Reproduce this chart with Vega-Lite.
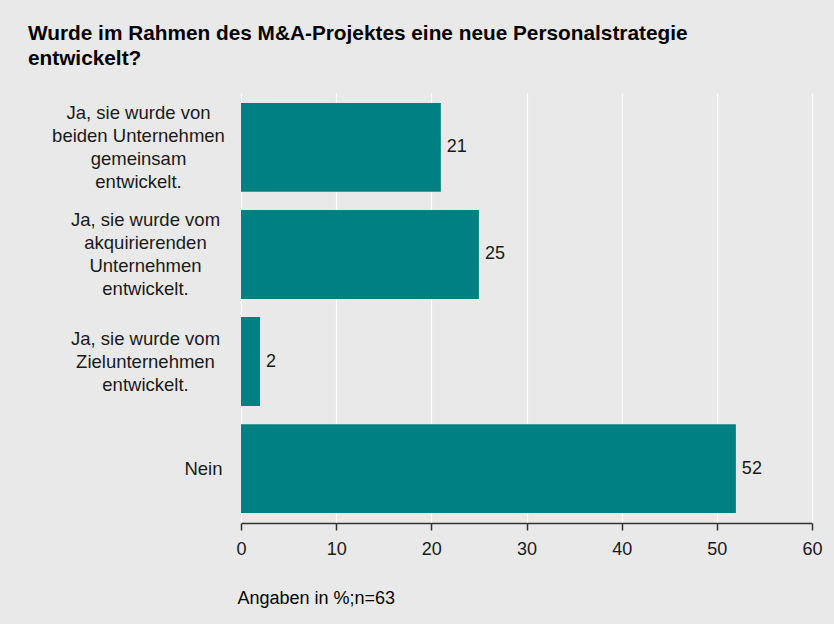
{
  "$schema": "https://vega.github.io/schema/vega-lite/v6.json",
  "autosize": {"type": "none"},
  "padding": {"left": 241, "top": 93, "right": 22, "bottom": 101},
  "width": 571,
  "height": 430,
  "background": "#e9e9e9",
  "title": {
    "text": ["Wurde im Rahmen des M&A-Projektes eine neue Personalstrategie", "entwickelt?"],
    "anchor": "start",
    "frame": "group",
    "dx": -213,
    "dy": -19,
    "font": "Liberation Sans",
    "fontSize": 20.8,
    "fontWeight": "bold",
    "lineHeight": 25,
    "color": "#000000"
  },
  "config": {
    "view": {"stroke": null},
    "font": "Liberation Sans"
  },
  "data": {
    "values": [
      {"antwort": "Ja, sie wurde von|beiden Unternehmen|gemeinsam|entwickelt.", "wert": 21},
      {"antwort": "Ja, sie wurde vom|akquirierenden|Unternehmen|entwickelt.", "wert": 25},
      {"antwort": "Ja, sie wurde vom|Zielunternehmen|entwickelt.", "wert": 2},
      {"antwort": "Nein", "wert": 52}
    ]
  },
  "encoding": {
    "y": {
      "field": "antwort",
      "type": "nominal",
      "sort": null,
      "scale": {"paddingInner": 0.17, "paddingOuter": 0.093},
      "axis": {
        "title": null,
        "domain": false,
        "ticks": false,
        "grid": false,
        "labelPadding": {"expr": "datum.value == 'Nein' ? 38 : (indexof(datum.value, 'beiden') >= 0 ? 103 : 96)"},
        "labelFontSize": 18.5,
        "labelColor": "#1a1a1a",
        "labelLineHeight": 23,
        "labelAlign": "center",
        "labelBaseline": "middle",
        "labelLimit": 300,
        "labelOffset": {"expr": "-(length(split(datum.label, '|')) - 1) * 11.5"},
        "labelExpr": "split(datum.label, '|')"
      }
    },
    "x": {
      "field": "wert",
      "type": "quantitative",
      "scale": {"domain": [0, 60], "nice": false},
      "axis": {
        "values": [0, 10, 20, 30, 40, 50, 60],
        "title": "Angaben in %;n=63",
        "titleFontSize": 18,
        "titleFontWeight": "normal",
        "titleColor": "#000000",
        "titleAnchor": "start",
        "titleAlign": "left",
        "titleX": -4,
        "titleY": 80,
        "titleBaseline": "alphabetic",
        "grid": true,
        "gridColor": "#ffffff",
        "gridWidth": 1.2,
        "domainColor": "#333333",
        "domainWidth": 1.5,
        "tickColor": "#333333",
        "tickSize": 7,
        "tickWidth": 1.5,
        "labelFontSize": 18,
        "labelColor": "#1a1a1a",
        "labelPadding": 10,
        "labelFlush": false
      }
    }
  },
  "layer": [
    {"mark": {"type": "bar", "color": "#008080"}},
    {
      "mark": {"type": "text", "align": "left", "baseline": "middle", "dx": 6, "fontSize": 18, "color": "#1a1a1a"},
      "encoding": {"text": {"field": "wert", "type": "quantitative"}}
    }
  ]
}
